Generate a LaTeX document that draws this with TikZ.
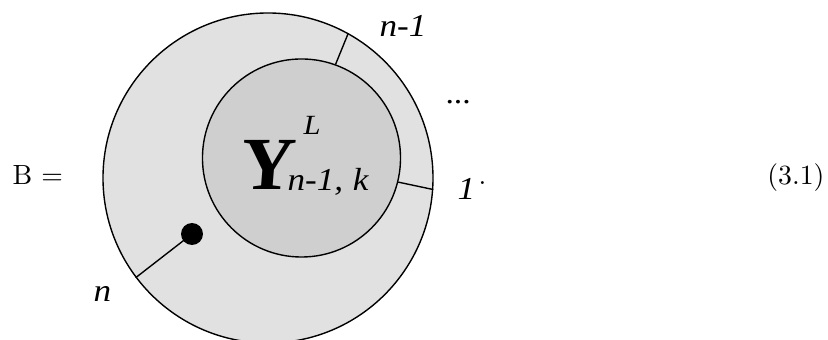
\documentclass[tikz,border=0pt]{standalone}
\usepackage{fontspec}
\newfontfamily\labelfont[FakeStretch=1.1]{Liberation Serif}
\newfontfamily\corefont[FakeSlant=0.08]{Liberation Serif}
\usetikzlibrary{positioning}
\definecolor{ringgray}{HTML}{E1E1E1}
\definecolor{coregray}{HTML}{CFCFCF}
\begin{document}
\begin{tikzpicture}[x=0.36pt, y=-0.36pt,
    disc/.style={circle, draw=black, line width=0.5pt, inner sep=0pt},
    leg/.style={line width=0.5pt},
    lbl/.style={font=\labelfont\itshape\fontsize{11.5}{13}\selectfont, inner sep=0pt, anchor=base west},
    eqtext/.style={inner sep=0pt}
  ]
    \useasboundingbox (0,0) rectangle (828,340);
    \clip (0,0) rectangle (828,340);

    % discs
    \node[disc, fill=ringgray, minimum size=118.8pt] (outer) at (268,178) {};
    \node[disc, fill=coregray, minimum size=71.3pt] (inner) at (301.5,158) {};
    \node[circle, fill=black, inner sep=0pt, minimum size=7.9pt] (dot) at (192,234) {};

    % legs
    \draw[leg] (inner.70.6) -- (outer.61.2);
    \draw[leg] (inner.-14.1) -- (outer.-4.2);
    \draw[leg] (dot.center) -- (outer.217.3);

    % core label
    \node[lbl, font=\corefont\bfseries\fontsize{27}{30}\selectfont] (ybig) at (239,190) {Y};
    \node[lbl] (ysub) at (287,191) {n-1,\hspace{3.5pt}k};
    \node[lbl, font=\labelfont\itshape\fontsize{10}{12}\selectfont] (ysup) at (303,135) {L};

    % leg labels
    \node[lbl] (lastleg) at (379,37) {n-1};
    \node[lbl, font=\labelfont\fontsize{11}{13}\selectfont] (dots) at (445,104) {...};
    \node[lbl] (firstleg) at (457,200) {1};
    \node[lbl] (dotleg) at (93,302) {n};

    % equation text
    \node[eqtext, anchor=base west] (lhs) at (12,185) {B $=$};
    \node[eqtext, anchor=base west] (stop) at (478,185) {.};
    \node[eqtext, anchor=base east] (eqno) at (825,185) {(3.1)};
  \end{tikzpicture}
\end{document}
